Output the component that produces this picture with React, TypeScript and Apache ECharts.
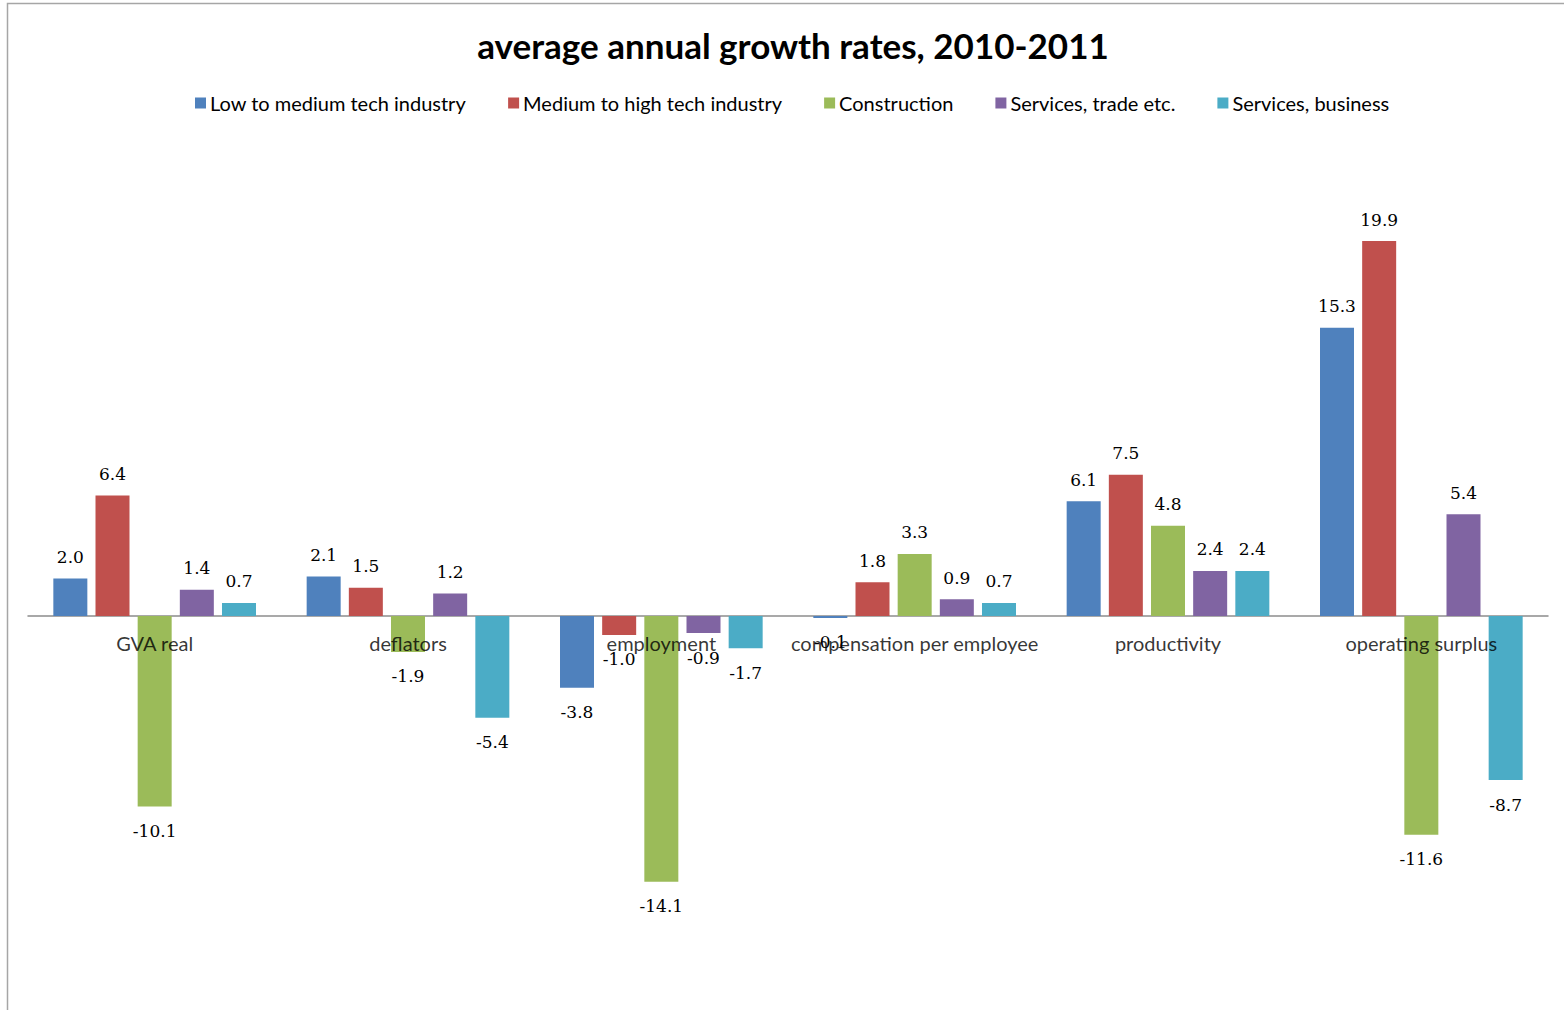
import React, { useEffect, useRef } from "react";
import * as echarts from "echarts";

const categories = ["GVA real", "deflators", "employment", "compensation per employee", "productivity", "operating surplus"];
const seriesNames = ["Low to medium tech industry", "Medium to high tech industry", "Construction", "Services, trade etc.", "Services, business"];
const lowMedTech = [2.0, 2.1, -3.8, -0.1, 6.1, 15.3];
const medHighTech = [6.4, 1.5, -1.0, 1.8, 7.5, 19.9];
const construction = [-10.1, -1.9, -14.1, 3.3, 4.8, -11.6];
const servicesTrade = [1.4, 1.2, -0.9, 0.9, 2.4, 5.4];
const servicesBusiness = [0.7, -5.4, -1.7, 0.7, 2.4, -8.7];
const colors = ["#4F81BD", "#C0504D", "#9BBB59", "#8064A2", "#4BACC6"];

export default function App() {
  const ref = useRef<HTMLDivElement>(null);
  useEffect(() => {
    if (!ref.current) return;
    const chart = echarts.init(ref.current, null, { renderer: "svg" });
    const allData = [lowMedTech, medHighTech, construction, servicesTrade, servicesBusiness];
    const barSeries = seriesNames.map((name, i) => ({
      name,
      type: "bar",
      data: allData[i].map((v) => ({
        value: v,
        label: { position: v >= 0 ? "top" : "bottom", distance: v >= 0 ? 13 : 16 },
      })),
      itemStyle: { color: colors[i] },
      barGap: "24%",
      barCategoryGap: "20%",
      z: 2,
      label: {
        show: true,
        formatter: (p: any) => Number(p.value).toFixed(1),
        fontFamily: "DejaVu Serif",
        fontSize: 17,
        color: "#000",
      },
    }));
    const catLabels = {
      name: "categoryLabels",
      type: "scatter",
      data: categories.map((c) => [c, 0]),
      symbolSize: 0,
      silent: true,
      z: 10,
      label: {
        show: true,
        position: "bottom",
        distance: 17,
        formatter: (p: any) => categories[p.dataIndex],
        fontFamily: "Lato",
        fontSize: 20,
        color: "#000",
      },
    };
    chart.setOption({
      animation: false,
      backgroundColor: "#ffffff",
      title: {
        text: "average annual growth rates, 2010-2011",
        left: 788,
        textAlign: "center",
        top: 22,
        textStyle: { fontFamily: "Lato", fontWeight: "bold", fontSize: 35, color: "#000" },
      },
      legend: {
        top: 88,
        left: 190,
        itemWidth: 11,
        itemHeight: 11,
        itemGap: 42,
        icon: "rect",
        textStyle: { fontFamily: "Lato", fontSize: 20, color: "#000", padding: [0, 0, 0, -1] },
        data: seriesNames,
      },
      graphic: [
        {
          type: "rect",
          shape: { x: 7.5, y: 3.5, width: 1600, height: 1100 },
          style: { fill: "none", stroke: "#a6a6a6", lineWidth: 1.5 },
          silent: true,
        },
      ],
      grid: { left: 28, right: 16, top: 145, bottom: 17, containLabel: false, outerBoundsMode: "none" },
      xAxis: {
        type: "category",
        data: categories,
        axisLine: { onZero: true, lineStyle: { color: "#8c8c8c", width: 1.5 } },
        axisTick: { show: false },
        axisLabel: { show: false },
      },
      yAxis: {
        type: "value",
        min: -20,
        max: 25,
        show: false,
        splitLine: { show: false },
      },
      series: [...barSeries, catLabels],
    });
    return () => chart.dispose();
  }, []);
  return <div ref={ref} style={{ position: "fixed", left: 0, top: 0, width: 1564, height: 1010 }} />;
}
